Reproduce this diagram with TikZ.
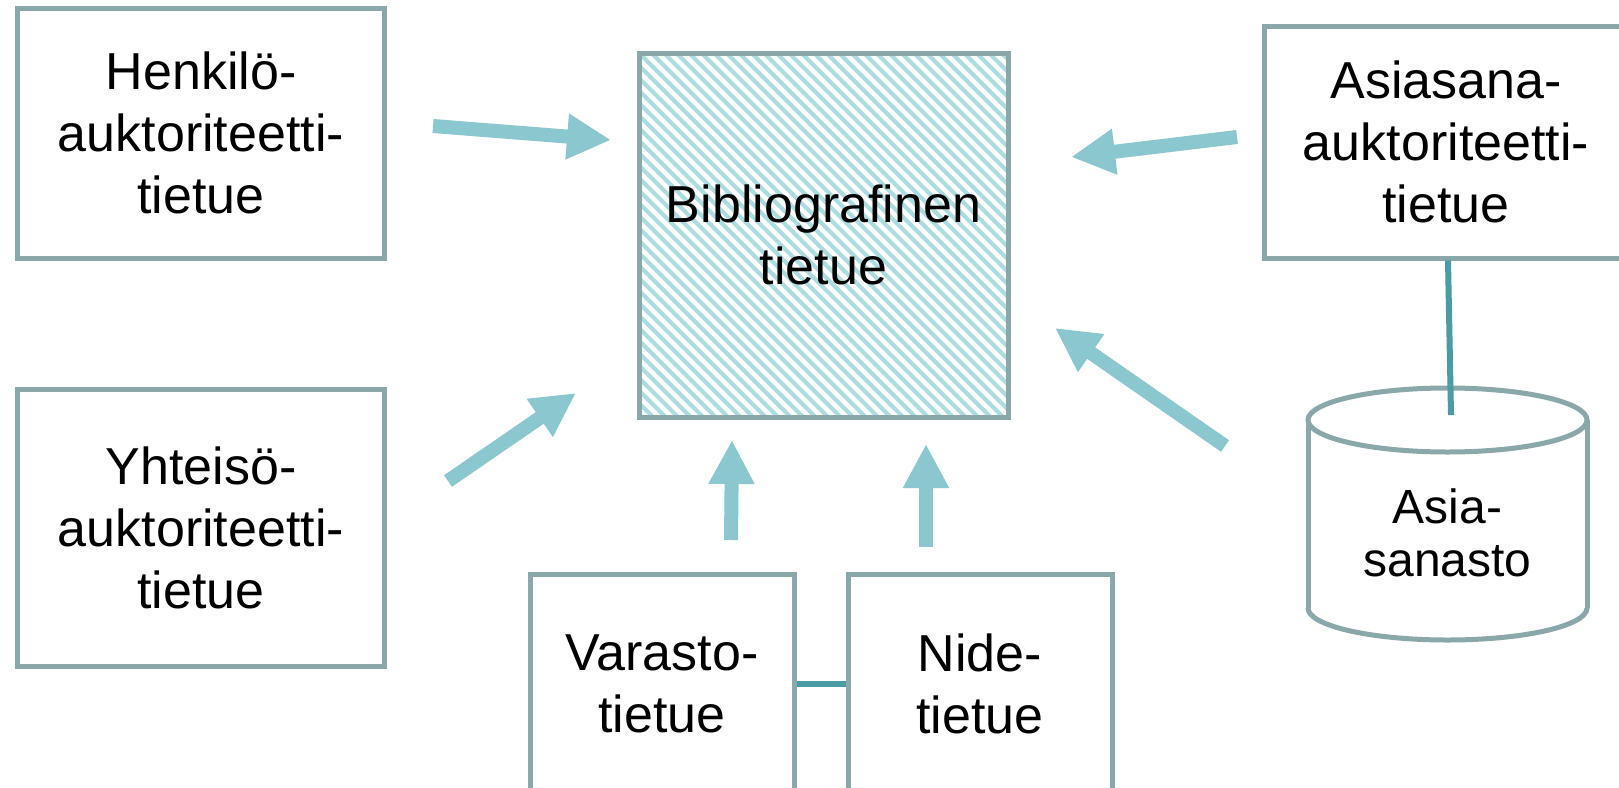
\documentclass[tikz,border=0pt]{standalone}
\usepackage{fontspec}
\setmainfont{Liberation Sans}
\usetikzlibrary{arrows.meta}
\definecolor{boxline}{HTML}{8AA7A9}
\definecolor{arrowfill}{HTML}{8BC7CE}
\definecolor{hatchcol}{HTML}{ADDCE0}
\definecolor{linkcol}{HTML}{4A9BA3}
\tikzset{
  rec/.style={draw=boxline, line width=5pt, inner sep=0pt, align=center,
    font=\fontsize{52}{62}\selectfont},
  bigarrow/.style={draw=arrowfill, line width=14pt,
    -{Triangle[length=44pt,width=43pt]}},
  linkline/.style={draw=linkcol, line width=6pt},
  cylline/.style={draw=boxline, line width=5pt},
  hatchline/.style={draw=hatchcol, line width=4pt}
}
\begin{document}
\begin{tikzpicture}[x=1pt,y=-1pt]
\clip (0,0) rectangle (1619,787);
\fill[white] (0,0) rectangle (1619,787);

% hatch of the bibliographic record
\begin{scope}
\clip (639,53) rectangle (1008,417);
\foreach \i in {0,...,60}
  \draw[hatchline] (639-375+12.5*\i,53) -- ++(370,370);
\end{scope}

% boxes
\node[rec, minimum width=367pt, minimum height=250pt] (henk) at (201,133)
  {Henkilö-\\auktoriteetti-\\tietue};
\node[rec, minimum width=367pt, minimum height=277pt] (yht) at (201,527.5)
  {Yhteisö-\\auktoriteetti-\\tietue};
\node[rec, minimum width=369pt, minimum height=364pt] (bib) at (823.5,235)
  {Bibliografinen\\tietue};
\node[rec, minimum width=364pt, minimum height=232pt] (asia) at (1446,142)
  {Asiasana-\\auktoriteetti-\\tietue};
\node[rec, minimum width=264pt, minimum height=220pt] (var) at (662,684)
  {Varasto-\\tietue};
\node[rec, minimum width=264pt, minimum height=220pt] (nide) at (980,684)
  {Nide-\\tietue};

% cylinder
\fill[white] (1308,420) rectangle (1587,608);
\begin{scope}
\clip (1290,608) rectangle (1610,660);
\draw[cylline, fill=white] (1447.5,608) ellipse (139.5 and 32);
\end{scope}
\draw[cylline] (1308,420) -- (1308,608);
\draw[cylline] (1587,420) -- (1587,608);
\draw[cylline, fill=white] (1447.5,420) ellipse (139.5 and 32);
\node[inner sep=0pt, align=center, font=\fontsize{48}{53}\selectfont] (cyl) at (1447.5,533)
  {Asia-\\sanasto};
\coordinate (cyltop) at (1451,415);

% links
\draw[linkline] ([xshift=2pt]asia.south) -- (cyltop);
\draw[linkline] (var.east) -- (nide.west);

% arrow end points
\coordinate (a1s) at (433,126);  \coordinate (a1e) at (611,140);
\coordinate (a2s) at (448,481);  \coordinate (a2e) at (576,393);
\coordinate (a3s) at (731,540);  \coordinate (a3e) at (732,440);
\coordinate (a4s) at (926,547);  \coordinate (a4e) at (926,444);
\coordinate (a5s) at (1237,137); \coordinate (a5e) at (1071,157);
\coordinate (a6s) at (1225,446); \coordinate (a6e) at (1055,328);

\draw[bigarrow] (a1s) -- (a1e);
\draw[bigarrow] (a2s) -- (a2e);
\draw[bigarrow] (a3s) -- (a3e);
\draw[bigarrow] (a4s) -- (a4e);
\draw[bigarrow] (a5s) -- (a5e);
\draw[bigarrow] (a6s) -- (a6e);
\end{tikzpicture}
\end{document}
